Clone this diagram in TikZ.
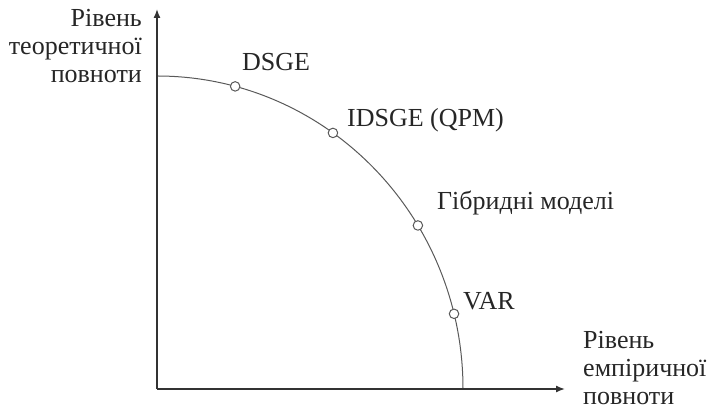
\documentclass[tikz,border=0pt]{standalone}
\usepackage{fontspec}
\setmainfont{Liberation Serif}
\usetikzlibrary{arrows.meta}
\begin{document}
\begin{tikzpicture}[x=1pt,y=1pt,
  axis/.style={draw=black!80,line width=1.4pt,-{Latex[length=9pt,width=7pt]}},
  frontier/.style={draw=black!65,line width=1pt},
  pt/.style={circle,draw=black!65,fill=white,line width=1pt,minimum size=9.5pt,inner sep=0pt},
  lbl/.style={inner sep=0pt,font=\fontsize{26}{28}\selectfont,text=black!85}]
\useasboundingbox (0,0) rectangle (709,411);
\coordinate (O) at (157,22);
\coordinate (XE) at (565,22);
\coordinate (YE) at (157,402);
\coordinate (A) at (463,22);
\draw[frontier] (A) arc[start angle=0,end angle=90,x radius=306,y radius=313];
\draw[axis] (O) -- (XE);
\draw[axis] (O) -- (YE);
\node[pt] (p1) at ({157+306*cos(75.2)},{22+313*sin(75.2)}) {};
\node[pt] (p2) at ({157+306*cos(54.9)},{22+313*sin(54.9)}) {};
\node[pt] (p3) at ({157+306*cos(31.5)},{22+313*sin(31.5)}) {};
\node[pt] (p4) at ({157+306*cos(13.9)},{22+313*sin(13.9)}) {};
\node[lbl,anchor=base west] (l1) at (242,340) {DSGE};
\node[lbl,anchor=base west] (l2) at (347,284) {IDSGE (QPM)};
\node[lbl,anchor=base west] (l3) at (437,201) {Гібридні моделі};
\node[lbl,anchor=base west] (l4) at (463,101) {VAR};
\node[lbl,anchor=base east] (y1) at (142,384) {Рівень};
\node[lbl,anchor=base east] (y2) at (142,356) {теоретичної};
\node[lbl,anchor=base east] (y3) at (142,328) {повноти};
\node[lbl,anchor=base west] (x1) at (583,62) {Рівень};
\node[lbl,anchor=base west] (x2) at (583,34) {емпіричної};
\node[lbl,anchor=base west] (x3) at (583,6) {повноти};
\end{tikzpicture}
\end{document}
